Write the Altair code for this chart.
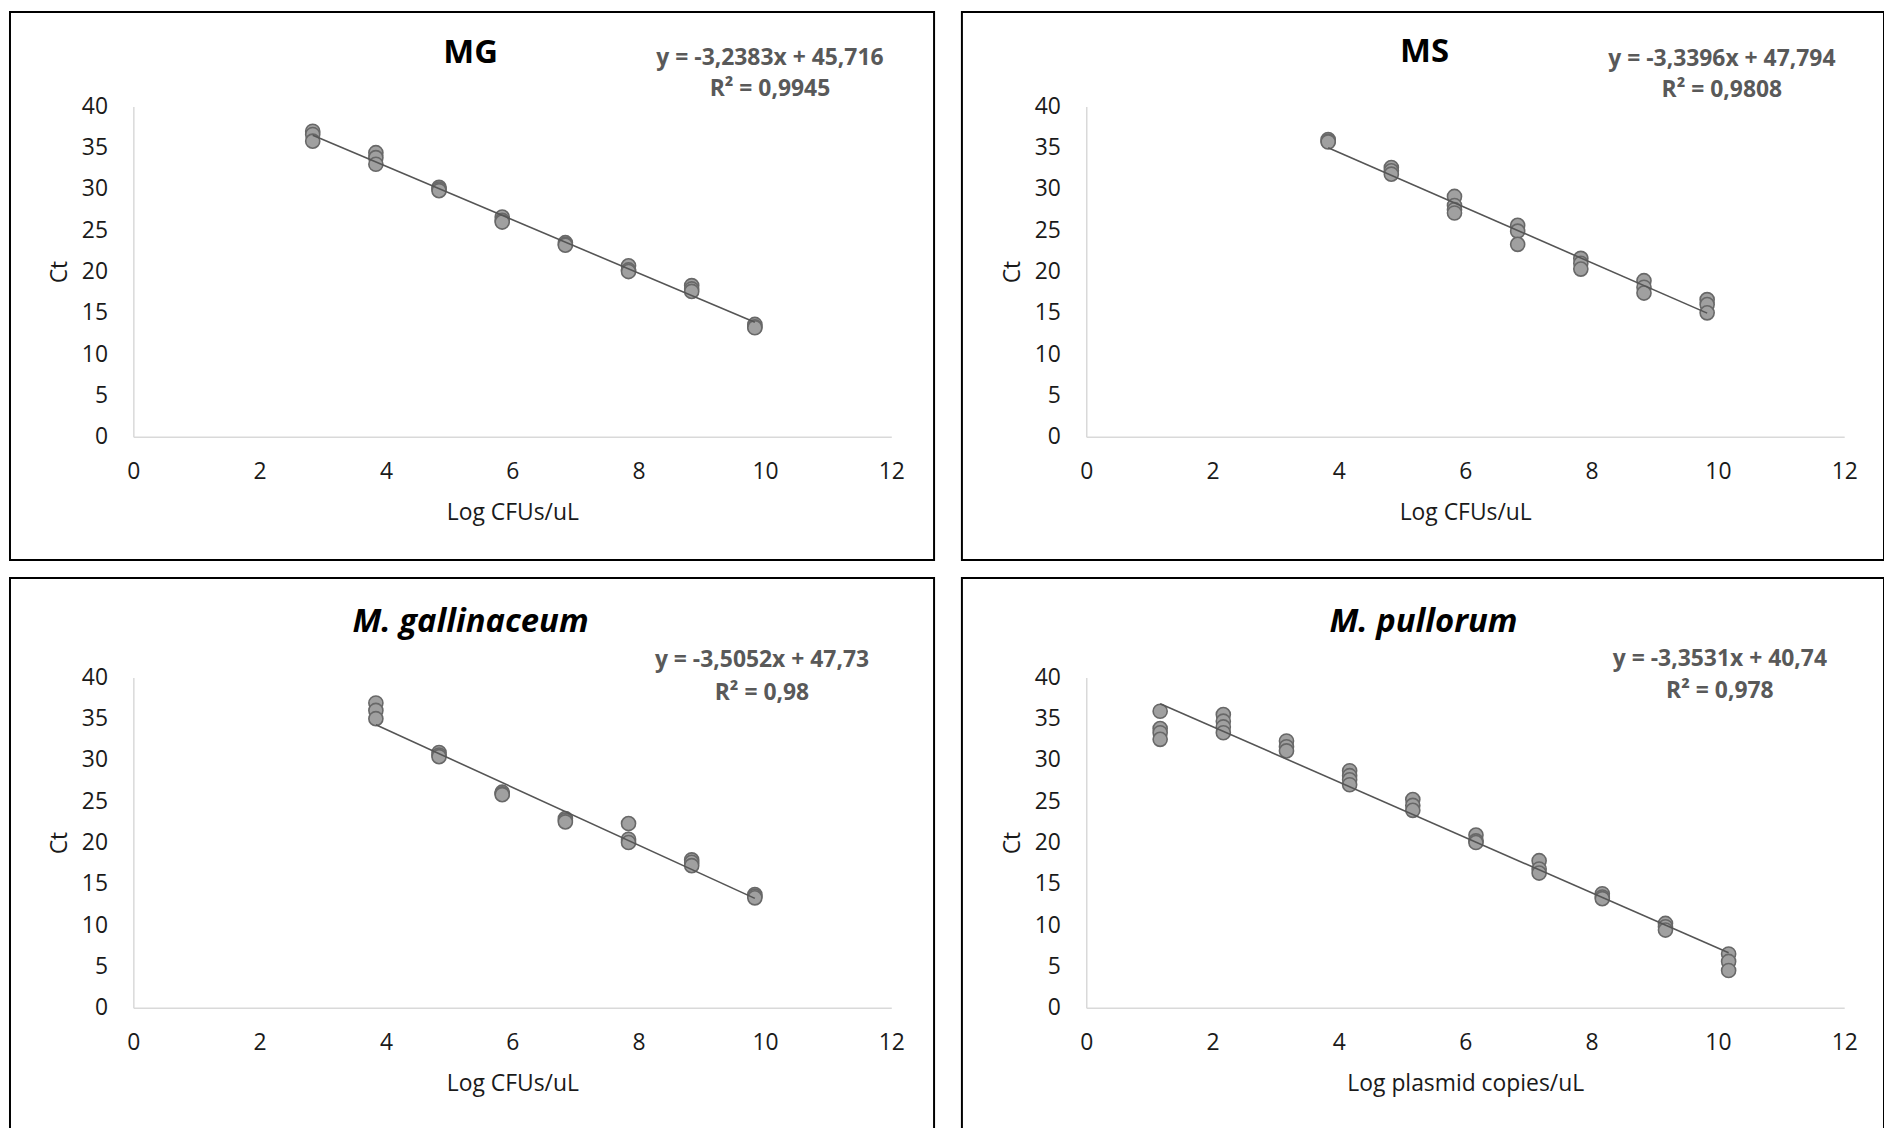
import altair as alt
import pandas as pd

FONT = "Open Sans"

X_TICKS = [0, 2, 4, 6, 8, 10, 12]
Y_TICKS = [0, 5, 10, 15, 20, 25, 30, 35, 40]

# ---- MG ----
MG_LOG = [2.84, 2.84, 2.84, 3.84, 3.84, 3.84, 4.84, 4.84, 4.84, 5.84, 5.84, 5.84,
          6.84, 6.84, 6.84, 7.84, 7.84, 7.84, 8.84, 8.84, 8.84, 9.84, 9.84, 9.84]
MG_CT = [37.0, 36.6, 35.8, 34.4, 33.8, 33.0, 30.2, 30.0, 29.8, 26.6, 26.2, 26.0,
         23.5, 23.3, 23.2, 20.7, 20.2, 20.0, 18.3, 17.9, 17.6, 13.6, 13.3, 13.2]

# ---- MS ----
MS_LOG = [3.83, 3.83, 3.83, 4.83, 4.83, 4.83, 5.83, 5.83, 5.83, 5.83,
          6.83, 6.83, 6.83, 7.83, 7.83, 7.83, 8.83, 8.83, 8.83, 9.83, 9.83, 9.83]
MS_CT = [36.0, 35.8, 35.7, 32.6, 32.2, 31.8, 29.1, 28.0, 27.5, 27.1,
         25.6, 24.9, 23.3, 21.6, 21.0, 20.3, 18.9, 18.1, 17.4, 16.6, 16.0, 15.0]

# ---- M. gallinaceum ----
MGAL_LOG = [3.84, 3.84, 3.84, 4.84, 4.84, 4.84, 5.84, 5.84, 5.84, 6.84, 6.84, 6.84,
            7.84, 7.84, 7.84, 8.84, 8.84, 8.84, 9.84, 9.84, 9.84]
MGAL_CT = [36.9, 36.0, 35.0, 30.9, 30.6, 30.4, 26.1, 25.9, 25.8, 22.9, 22.7, 22.5,
           22.3, 20.4, 20.0, 17.9, 17.6, 17.2, 13.7, 13.5, 13.3]

# ---- M. pullorum ----
MPUL_LOG = [1.17, 1.17, 1.17, 1.17, 2.17, 2.17, 2.17, 2.17, 3.17, 3.17, 3.17,
            4.17, 4.17, 4.17, 4.17, 5.17, 5.17, 5.17, 6.17, 6.17, 6.17,
            7.17, 7.17, 7.17, 8.17, 8.17, 8.17, 9.17, 9.17, 9.17, 10.17, 10.17, 10.17]
MPUL_CT = [35.9, 33.8, 33.3, 32.5, 35.5, 34.7, 34.0, 33.3, 32.3, 31.6, 31.1,
           28.7, 28.1, 27.6, 27.0, 25.2, 24.5, 23.9, 20.9, 20.2, 20.0,
           17.8, 16.8, 16.3, 13.8, 13.4, 13.2, 10.2, 9.8, 9.4, 6.5, 5.6, 4.5]

TITLES = ["MG", "MS", "M. gallinaceum", "M. pullorum"]
ITALIC = [False, False, True, True]
X_TITLES = ["Log CFUs/uL", "Log CFUs/uL", "Log CFUs/uL", "Log plasmid copies/uL"]
SLOPES = [-3.2383, -3.3396, -3.5052, -3.3531]
INTERCEPTS = [45.716, 47.794, 47.73, 40.74]
EQUATIONS = ["y = -3,2383x + 45,716", "y = -3,3396x + 47,794",
             "y = -3,5052x + 47,73", "y = -3,3531x + 40,74"]
R2_TEXT = ["R² = 0,9945", "R² = 0,9808", "R² = 0,98", "R² = 0,978"]
LOGS = [MG_LOG, MS_LOG, MGAL_LOG, MPUL_LOG]
CTS = [MG_CT, MS_CT, MGAL_CT, MPUL_CT]

# layout (pixels, relative to each plot area)
PLOT_W, PLOT_H = 762, 332
FRAMES = [(-124, 805, -95, 456), (-125, 802, -95, 456),
          (-124, 805, -100, 470), (-125, 802, -100, 470)]
TITLE_POS = [(339, -44), (340, -45), (339, -46), (339, -46)]
EQ_POS = [(640, -42, -11), (639, -41, -10), (632, -10, 23), (637, -11, 21)]


def panel(i):
    pts = pd.DataFrame({"log": LOGS[i], "ct": CTS[i]})
    line_df = pd.DataFrame({"log": [min(LOGS[i]), max(LOGS[i])]})
    ann = pd.DataFrame({"title": [TITLES[i]], "eq": [EQUATIONS[i]], "r2": [R2_TEXT[i]]})

    xenc = alt.X("log:Q", scale=alt.Scale(domain=[0, 12], nice=False, zero=True),
                 axis=alt.Axis(values=X_TICKS, title=X_TITLES[i], format="d"))
    yenc = alt.Y("ct:Q", scale=alt.Scale(domain=[0, 40], nice=False, zero=True),
                 axis=alt.Axis(values=Y_TICKS, title="Ct", format="d"))

    fx1, fx2, fy1, fy2 = FRAMES[i]
    frame = alt.Chart(ann).mark_rect(filled=False, stroke="black", strokeWidth=2).encode(
        x=alt.value(fx1), x2=alt.value(fx2), y=alt.value(fy1), y2=alt.value(fy2))

    points = alt.Chart(pts).mark_circle(
        size=200, color="#a0a0a0", opacity=1, stroke="#686868", strokeWidth=1.6
    ).encode(x=xenc, y=yenc)

    line = alt.Chart(line_df).transform_calculate(
        ct=f"{SLOPES[i]} * datum.log + {INTERCEPTS[i]}"
    ).mark_line(color="#555555", strokeWidth=1.6).encode(x=xenc, y=yenc)

    tx, ty = TITLE_POS[i]
    title = alt.Chart(ann).mark_text(
        font=FONT, fontSize=33, fontWeight="bold",
        fontStyle="italic" if ITALIC[i] else "normal",
        color="black", align="center", baseline="alphabetic"
    ).encode(x=alt.value(tx), y=alt.value(ty), text="title:N")

    ex, ey1, ey2 = EQ_POS[i]
    eq1 = alt.Chart(ann).mark_text(
        font=FONT, fontSize=23, fontWeight="bold", color="#595959",
        align="center", baseline="alphabetic"
    ).encode(x=alt.value(ex), y=alt.value(ey1), text="eq:N")
    eq2 = alt.Chart(ann).mark_text(
        font=FONT, fontSize=23, fontWeight="bold", color="#595959",
        align="center", baseline="alphabetic"
    ).encode(x=alt.value(ex), y=alt.value(ey2), text="r2:N")

    return alt.layer(frame, points, line, title, eq1, eq2).properties(
        width=PLOT_W, height=PLOT_H)


top = alt.hconcat(panel(0), panel(1), spacing=26)
bottom = alt.hconcat(panel(2), panel(3), spacing=26)

chart = alt.vconcat(top, bottom, spacing=16).properties(
    padding={"left": 1, "top": 0, "right": -1, "bottom": -20},
    background="white"
).configure_view(stroke=None).configure_axis(
    domainColor="#d9d9d9", domainWidth=1.5, grid=False, ticks=False, tickSize=0,
    labelFont=FONT, labelFontSize=23, labelColor="#1a1a1a", labelFlush=False,
    labelOverlap=False,
    titleFont=FONT, titleFontSize=23, titleFontWeight="normal", titleColor="#1a1a1a"
).configure_axisX(labelPadding=24, titlePadding=18).configure_axisY(
    labelPadding=26, titlePadding=10)

chart.save("out.html", embed_options={"renderer": "svg", "actions": False})
